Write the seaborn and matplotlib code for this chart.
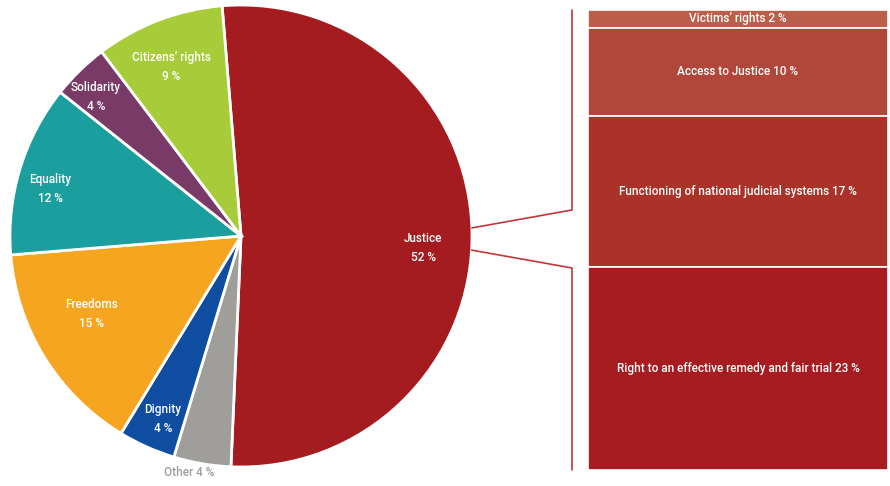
import numpy as np
import seaborn as sns
import matplotlib.pyplot as plt
from matplotlib.lines import Line2D

# pie: share of areas (clockwise from Justice)
areas = ['Justice', 'Other', 'Dignity', 'Freedoms', 'Equality', 'Solidarity', 'Citizens\u2019 rights']
area_pct = [52, 4, 4, 15, 12, 4, 9]
area_colors = ['#A51C20', '#A09E9A', '#0E4DA0', '#F5A51F', '#1A9E9E', '#7A3A67', '#A8CB3A']

# breakdown of Justice (top to bottom)
justice_parts = ['Victims\u2019 rights', 'Access to Justice',
                 'Functioning of national judicial systems',
                 'Right to an effective remedy and fair trial']
justice_pct = [2, 10, 17, 23]
justice_colors = ['#BB5F4A', '#B1473A', '#AB3229', '#A61C20']

sns.set_theme(style='white')
plt.rcParams['font.family'] = ['Roboto', 'DejaVu Sans']

W, H = 890, 486
fig = plt.figure(figsize=(W / 100, H / 100), dpi=100)

# ---- pie ----
ax = fig.add_axes([10 / W, 19 / H, 462 / W, 462 / H])
wedges, _ = ax.pie(area_pct, colors=area_colors, startangle=94.7, counterclock=False,
                   wedgeprops=dict(edgecolor='white', linewidth=2))
ax.set_xlim(-1, 1)
ax.set_ylim(-1, 1)
ax.set_aspect('equal')
ax.axis('off')

# label radius and angle nudge (deg) per wedge
label_r = [0.79, 1.04, 0.86, 0.73, 0.85, 0.87, 0.79]
label_da = [-5, 0, 1, -4, 3, 2, 1.5]
for w, name, pct, r, da in zip(wedges, areas, area_pct, label_r, label_da):
    mid = np.deg2rad((w.theta1 + w.theta2) / 2 + da)
    x, y = r * np.cos(mid), r * np.sin(mid)
    if name == 'Other':
        ax.text(x - 0.05, y, '{} {} %'.format(name, pct), ha='center', va='center',
                color='#A09E9A', fontsize=8.5, fontweight='medium')
    else:
        ax.text(x, y, '{}\n{} %'.format(name, pct), ha='center', va='center',
                color='white', fontsize=8.5, fontweight='medium', linespacing=1.6)

# ---- stacked bar for Justice ----
bx = fig.add_axes([588 / W, 16 / H, 300 / W, 460 / H])
bottom = 0
for name, pct, col in zip(justice_parts, justice_pct, justice_colors):
    bx.bar(0.5, pct, width=1, bottom=bottom, color=col, edgecolor='white', linewidth=1.2)
    bx.text(0.5, bottom + pct / 2, '{} {} %'.format(name, pct), ha='center', va='center',
            color='white', fontsize=8.5, fontweight='medium')
    bottom += pct
bx.set_xlim(0, 1)
bx.set_ylim(sum(justice_pct), 0)
bx.axis('off')

# ---- connector bracket ----
to_fig = lambda px, py: (px / W, 1 - py / H)
line_col = '#C0383C'
for a, yb, yend in [(2.0, 210, 10), (-3.5, 268, 470)]:
    p = ax.transData.transform((np.cos(np.deg2rad(a)), np.sin(np.deg2rad(a))))
    sx, sy = fig.transFigure.inverted().transform(p)
    bx_, by_ = to_fig(572, yb)
    ex, ey = to_fig(572, yend)
    fig.add_artist(Line2D([sx, bx_, ex], [sy, by_, ey], color=line_col, lw=1.2))

fig.savefig('out.png', dpi=100)
